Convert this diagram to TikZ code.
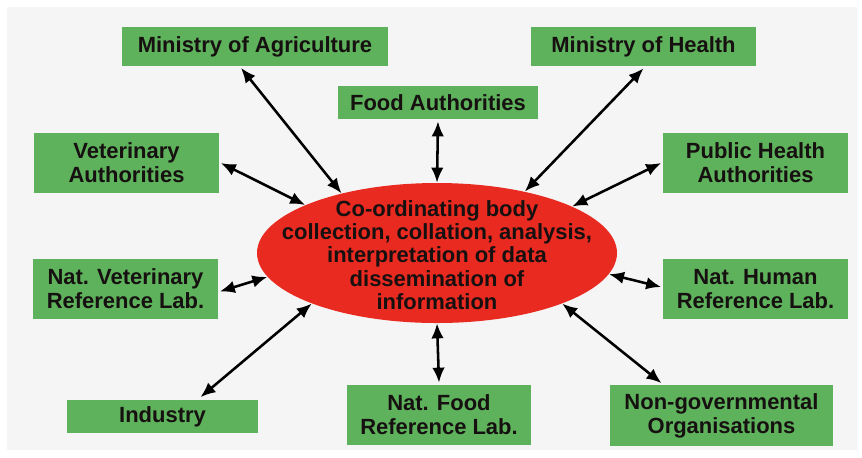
\documentclass[tikz,border=0pt]{standalone}
\usepackage{fontspec}
\setmainfont{Liberation Sans}
\usetikzlibrary{arrows.meta,shapes.geometric}
\definecolor{boxGreen}{RGB}{94,178,92}
\definecolor{bodyRed}{RGB}{232,42,32}
\definecolor{paperGrey}{RGB}{245,245,246}
\definecolor{inkDark}{RGB}{22,16,16}

\begin{document}
\begin{tikzpicture}[x=1cm,y=1cm,
  partner/.style={rectangle,fill=boxGreen,text=inkDark,align=center,inner sep=0pt,
    font=\bfseries\fontsize{12.5}{13.6}\selectfont},
  link/.style={{Latex[length=0.30cm,width=0.25cm]}-{Latex[length=0.30cm,width=0.25cm]},line width=1.45pt,black}]
\path[use as bounding box] (0,0) rectangle (17.24,-9.14);
\fill[paperGrey] (0.14,-0.14) rectangle (17.14,-9.00);

% co-ordinating body
\node[ellipse,fill=bodyRed,minimum width=7.2cm,minimum height=2.8cm,inner sep=0pt] (body) at (8.74,-5.06) {};
\node[align=center,text=inkDark,font=\bfseries\fontsize{12.5}{13.3}\selectfont] (bodytext) at ([yshift=-0.04cm]body.center) {Co-ordinating body\\collection, collation, analysis,\\interpretation of data\\dissemination of\\information};

% partners
\node[partner,minimum width=5.32cm,minimum height=0.78cm] (agri) at (5.10,-0.93) {Ministry of Agriculture};
\node[partner,minimum width=4.00cm,minimum height=0.66cm] (foodauth) at (8.76,-2.05) {Food Authorities};
\node[partner,minimum width=4.50cm,minimum height=0.78cm] (health) at (12.87,-0.93) {Ministry of Health};
\node[partner,minimum width=3.70cm,minimum height=1.20cm] (vet) at (2.53,-3.26) {Veterinary\\Authorities};
\node[partner,minimum width=3.70cm,minimum height=1.20cm] (pubhealth) at (15.11,-3.26) {Public Health\\Authorities};
\node[partner,minimum width=3.70cm,minimum height=1.20cm] (vetref) at (2.51,-5.78) {Nat. Veterinary\\Reference Lab.};
\node[partner,minimum width=3.70cm,minimum height=1.20cm] (humanref) at (15.11,-5.78) {Nat. Human\\Reference Lab.};
\node[partner,minimum width=3.82cm,minimum height=0.66cm] (industry) at (3.25,-8.33) {Industry};
\node[partner,minimum width=3.68cm,minimum height=1.20cm] (foodref) at (8.78,-8.30) {Nat. Food\\Reference Lab.};
\node[partner,minimum width=4.46cm,minimum height=1.22cm] (ngo) at (14.43,-8.31) {Non-governmental\\Organisations};

% links
\draw[link] ([xshift=-0.28cm,yshift=-0.03cm]agri.south) -- (body.148);
\draw[link] ([yshift=-0.04cm]foodauth.south) -- (body.90);
\draw[link] ([yshift=-0.04cm]health.south) -- (body.35);
\draw[link] ([xshift=0.03cm]vet.east) -- (body.160);
\draw[link] ([xshift=-0.03cm]pubhealth.west) -- (body.19);
\draw[link] ([xshift=0.03cm,yshift=-0.05cm]vetref.east) -- (body.188);
\draw[link] ([xshift=-0.03cm,yshift=0.04cm]humanref.west) -- (body.353);
\draw[link] ([xshift=0.76cm,yshift=0.05cm]industry.north) -- (body.202);
\draw[link] ([yshift=0.04cm]foodref.north) -- (body.270);
\draw[link] ([xshift=-1.20cm,yshift=0.03cm]ngo.north) -- (body.338);
\end{tikzpicture}
\end{document}
